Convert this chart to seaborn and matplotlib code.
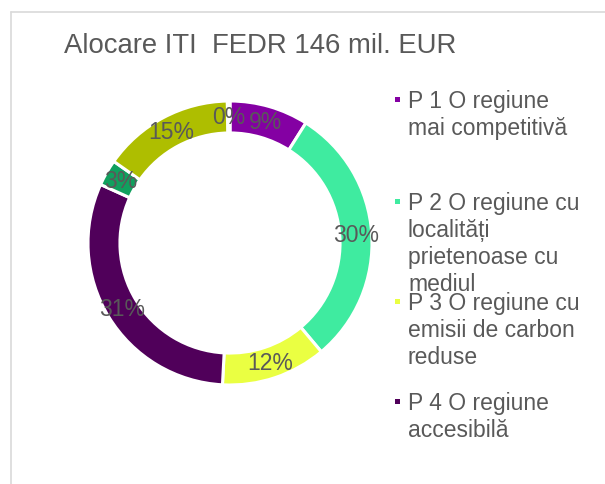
import matplotlib
matplotlib.use("Agg")
import matplotlib.pyplot as plt
import seaborn as sns
from matplotlib.lines import Line2D
from matplotlib.patches import Rectangle

sns.set_theme(style="white")
plt.rcParams['font.family'] = ['Liberation Sans', 'DejaVu Sans']

title = "Alocare ITI  FEDR 146 mil. EUR"
categories = [
    "P 1 O regiune\nmai competitivă",
    "P 2 O regiune cu\nlocalități\nprietenoase cu\nmediul",
    "P 3 O regiune cu\nemisii de carbon\nreduse",
    "P 4 O regiune\naccesibilă",
    "P 5",
    "P 6",
    "P 7",
]
shares = [9, 30, 12, 31, 3, 15, 0.3]
colors = ["#8400A3", "#3FEBA0", "#EAFF42", "#50005A", "#10A05E", "#AEBE00", "#D0D0D0"]
legend_count = 4

W, H = 605, 485
fig = plt.figure(figsize=(W / 100, H / 100), dpi=100)
fig.patch.set_facecolor("white")

# frame (left and top edges visible)
fig.add_artist(Line2D([10.5 / W, 10.5 / W], [0, 1 - 12.5 / H], color="#D9D9D9", lw=1.2, transform=fig.transFigure))
fig.add_artist(Line2D([10.5 / W, 1], [1 - 12.5 / H, 1 - 12.5 / H], color="#D9D9D9", lw=1.2, transform=fig.transFigure))

cx, cy, r = 230, 244, 142
ax = fig.add_axes([(cx - r) / W, (H - cy - r) / H, 2 * r / W, 2 * r / H])

pal = sns.color_palette(colors)
ring = 0.225
wedges, texts, autotexts = ax.pie(
    shares, colors=pal, startangle=90, counterclock=False, radius=1,
    wedgeprops=dict(width=ring, edgecolor="white", linewidth=2.2),
    autopct="%1.0f%%", pctdistance=1 - ring / 2,
    textprops=dict(color="#595959", fontsize=16.5),
)
ax.set_xlim(-1, 1)
ax.set_ylim(-1, 1)
ax.set_aspect("equal")
ax.axis("off")

fig.text(260 / W, 1 - 53 / H, title, ha="center", va="baseline", fontsize=19.8, color="#595959")

# legend
first_baselines = [108, 210, 310, 410]
line_step = 27
for k in range(legend_count):
    lines = categories[k].split("\n")
    b0 = first_baselines[k]
    fig.add_artist(Rectangle((395 / W, 1 - (b0 - 5) / H), 5.5 / W, 5.5 / H,
                             facecolor=pal[k], edgecolor="none", transform=fig.transFigure))
    for i, ln in enumerate(lines):
        fig.text(408 / W, 1 - (b0 + i * line_step) / H, ln, ha="left", va="baseline",
                 fontsize=16.5, color="#595959")

fig.savefig("out.png", dpi=100, facecolor="white")
